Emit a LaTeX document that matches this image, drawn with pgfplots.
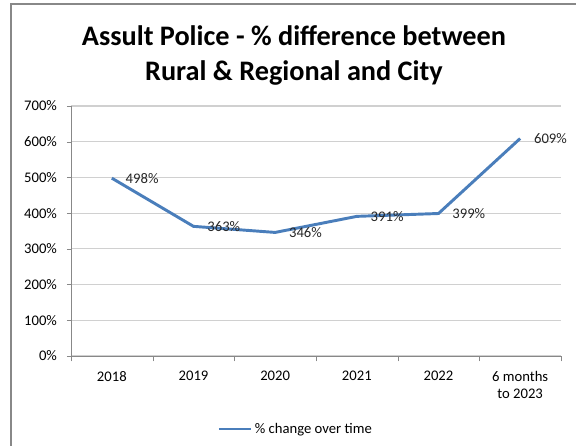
\documentclass[border=0pt]{standalone}
\usepackage{pgfplots}
\pgfplotsset{compat=1.18}
\usepackage{fontspec}
\setmainfont{Carlito}

\definecolor{xlblue}{HTML}{4A7EBB}
\definecolor{gridgray}{HTML}{D0D0D0}
\definecolor{axgray}{HTML}{888888}

\begin{document}
\begin{tikzpicture}
% page frame (1px = 0.75pt)
\useasboundingbox (0pt,0pt) rectangle (432pt,-334.5pt);
\draw[axgray, line width=1.1pt] (8.25pt,-334.5pt) -- (8.25pt,-3pt) -- (432pt,-3pt);

\begin{axis}[
  at={(53.25pt,-267pt)}, anchor=origin,
  scale only axis,
  width=367.5pt, height=187.5pt,
  xmin=0, xmax=6,
  ymin=0, ymax=700,
  axis x line=bottom, axis y line=left,
  axis line style={axgray, -},
  xtick={0.5,1.5,2.5,3.5,4.5,5.5},
  xticklabels={2018,2019,2020,2021,2022,{6 months\\to 2023}},
  x tick label style={align=center, font=\fontsize{11}{13}\selectfont, yshift=-5pt},
  major x tick style={draw=none},
  minor xtick={0,1,...,6},
  minor tick length=4pt,
  minor x tick style={axgray},
  tick align=outside,
  ytick={0,100,...,700},
  yticklabel={\pgfmathprintnumber{\tick}\%},
  y tick label style={font=\fontsize{11}{13}\selectfont, xshift=-4pt},
  major tick length=3pt,
  y tick style={axgray},
  /pgf/number format/assume math mode=true,
  ymajorgrids=true,
  grid style={gridgray, line width=0.8pt},
  title={Assult Police - \% difference between\\Rural \& Regional and City},
  title style={at={(axis description cs:0.455,1.17)}, anchor=center, align=center,
    font=\fontsize{21.2}{26}\selectfont\bfseries},
  legend style={at={(axis description cs:0.459,-0.292)}, anchor=center, draw=none,
    font=\fontsize{11}{13}\selectfont, inner xsep=0pt},
  legend image code/.code={\draw[#1] (0pt,0pt) -- (24pt,0pt);},
  nodes near coords={\pgfmathprintnumber{\pgfplotspointmeta}\%},
  every node near coord/.append style={anchor=west, xshift=6pt,
    font=\fontsize{11}{13}\selectfont, text=black!85},
]
\addplot[xlblue, line width=2.2pt, no marks] coordinates {
  (0.5,498) (1.5,363) (2.5,346) (3.5,391) (4.5,399) (5.5,609)
};
\addlegendentry{\% change over time}
\end{axis}
\end{tikzpicture}
\end{document}
